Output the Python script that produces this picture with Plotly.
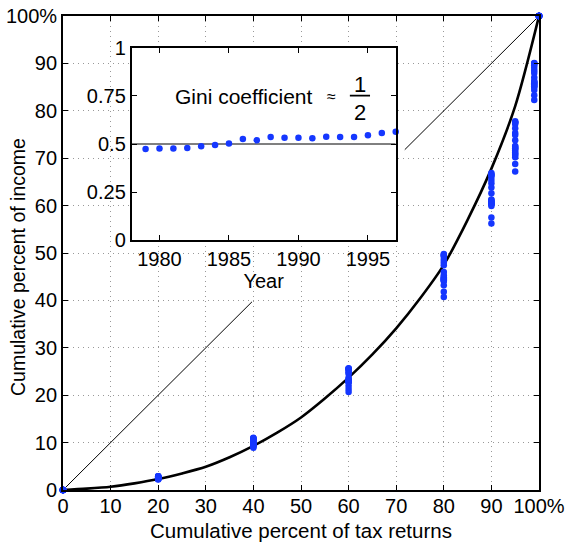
import plotly.graph_objects as go

# ---------------- data ----------------
years = list(range(1979, 1998))
gini = [0.474, 0.477, 0.477, 0.479, 0.488, 0.495, 0.502, 0.526, 0.519, 0.536,
        0.533, 0.533, 0.530, 0.538, 0.536, 0.536, 0.545, 0.557, 0.564]

pct_returns = [0, 20, 40, 60, 80, 90, 95, 99, 100]
share_0 = [0.0] * 19
share_20 = [2.9, 2.9, 2.9, 2.8, 2.8, 2.7, 2.7, 2.5, 2.6, 2.4, 2.4, 2.4, 2.5, 2.4, 2.4, 2.4, 2.3, 2.3, 2.2]
share_40 = [11.0, 10.9, 10.9, 10.8, 10.6, 10.5, 10.3, 9.8, 10.0, 9.6, 9.6, 9.7, 9.7, 9.5, 9.5, 9.5, 9.3, 9.1, 8.9]
share_60 = [25.7, 25.6, 25.6, 25.4, 25.1, 24.8, 24.5, 23.4, 23.7, 22.9, 23.0, 23.0, 23.1, 22.8, 22.9, 22.8, 22.0, 21.3, 20.7]
share_80 = [49.8, 49.6, 49.5, 49.2, 48.6, 48.0, 47.4, 45.3, 46.0, 44.4, 44.7, 44.6, 44.9, 44.1, 44.3, 44.2, 43.2, 41.8, 40.7]
share_90 = [66.9, 66.6, 66.4, 66.1, 65.4, 64.7, 63.8, 61.3, 62.6, 60.6, 60.8, 60.9, 61.2, 60.3, 60.4, 60.3, 59.9, 57.5, 56.2]
share_95 = [77.8, 77.6, 77.5, 77.2, 76.3, 75.3, 74.9, 72.6, 73.8, 71.6, 72.1, 72.0, 72.4, 71.2, 70.7, 70.9, 70.2, 68.8, 67.2]
share_99 = [90.1, 90.0, 89.9, 89.6, 89.1, 88.5, 88.0, 86.3, 87.0, 85.6, 85.8, 85.9, 86.1, 85.3, 85.0, 85.2, 84.4, 83.3, 82.3]
share_100 = [100.0] * 19
shares = [share_0, share_20, share_40, share_60, share_80, share_90, share_95, share_99, share_100]

curve_x = [0, 5, 10, 15, 20, 25, 30, 35, 40, 45, 50, 55, 60, 65, 70, 75, 80, 85, 90, 95, 100]
curve_y = [0, 0.3, 0.7, 1.4, 2.3, 3.5, 4.9, 6.9, 9.3, 12.1, 15.3, 19.3, 23.7, 28.6, 34.1, 40.4, 47.5, 57.0, 67.8, 81.0, 100]

diag_lo_x = [0, 39.7]
diag_hi_x = [71.8, 100]

x_ticks = [0, 10, 20, 30, 40, 50, 60, 70, 80, 90, 100]
x_tick_labels = ["0", "10", "20", "30", "40", "50", "60", "70", "80", "90", "100%"]
y_ticks = [0, 10, 20, 30, 40, 50, 60, 70, 80, 90, 100]
y_tick_labels = ["0", "10", "20", "30", "40", "50", "60", "70", "80", "90", "100%"]
inset_x_ticks = [1980, 1985, 1990, 1995]
inset_y_ticks = [0, 0.25, 0.5, 0.75, 1]
inset_y_labels = ["0", "0.25", "0.5", "0.75", "1"]
gini_ref = 0.5

# ---------------- figure ----------------
FONT = "Liberation Sans, Arial, Helvetica, sans-serif"
FS = 20
BLUE = "#1537ff"

fig = go.Figure()

px_all, py_all = [], []
for j in range(len(years)):
    for k, p in enumerate(pct_returns):
        px_all.append(p)
        py_all.append(shares[k][j])

fig.add_trace(go.Scatter(x=diag_lo_x, y=diag_lo_x, mode="lines",
                         line=dict(color="black", width=1), hoverinfo="skip"))
fig.add_trace(go.Scatter(x=diag_hi_x, y=diag_hi_x, mode="lines",
                         line=dict(color="black", width=1), hoverinfo="skip"))
fig.add_trace(go.Scatter(x=curve_x, y=curve_y, mode="lines",
                         line=dict(color="black", width=2.6, shape="spline", smoothing=0.8),
                         hoverinfo="skip"))
fig.add_trace(go.Scatter(x=px_all, y=py_all, mode="markers",
                         marker=dict(color=BLUE, size=6.5, line=dict(width=0)),
                         cliponaxis=False))

fig.add_trace(go.Scatter(x=[1978, 1997], y=[gini_ref, gini_ref], mode="lines",
                         line=dict(color="black", width=1), xaxis="x2", yaxis="y2",
                         hoverinfo="skip"))
fig.add_trace(go.Scatter(x=years, y=gini, mode="markers",
                         marker=dict(color=BLUE, size=6.5, line=dict(width=0)),
                         xaxis="x2", yaxis="y2", cliponaxis=False))

axis_common = dict(showline=True, linecolor="black", linewidth=1.8, mirror="ticks",
                   ticks="inside", ticklen=5, tickcolor="black", tickwidth=1, zeroline=False,
                   automargin=False,
                   tickfont=dict(family=FONT, size=FS, color="black"))

GRID = dict(showgrid=True, gridcolor="#999999", griddash="1px,4px", gridwidth=1)

fig.update_layout(
    width=565, height=543,
    margin=dict(l=63, r=26, t=16, b=53),
    paper_bgcolor="white", plot_bgcolor="white",
    showlegend=False,
    font=dict(family=FONT, size=FS, color="black"),
    xaxis=dict(range=[0, 100], tickvals=x_ticks, ticktext=x_tick_labels,
               ticklabelstandoff=-3,
               domain=[0, 1], **GRID, **axis_common),
    yaxis=dict(range=[0, 100], tickvals=y_ticks, ticktext=y_tick_labels,
               domain=[0, 1], **GRID, **axis_common),
    xaxis2=dict(range=[1978, 1997], tickvals=inset_x_ticks, anchor="y2",
                domain=[0.1443, 0.699], showgrid=False,
                title=dict(text="Year", standoff=0, font=dict(family=FONT, size=FS)),
                **axis_common),
    yaxis2=dict(range=[0, 1], tickvals=inset_y_ticks, ticktext=inset_y_labels, anchor="x2",
                domain=[0.5274, 0.9325], showgrid=False, **axis_common),
)

# axis titles
fig.add_annotation(x=0.5, y=-0.0845, xref="paper", yref="paper",
                   xanchor="center", yanchor="middle",
                   text="Cumulative percent of tax returns", showarrow=False,
                   font=dict(family=FONT, size=20.5, color="black"))
fig.add_annotation(x=-0.0945, y=0.4705, xref="paper", yref="paper", textangle=-90,
                   xanchor="center", yanchor="middle",
                   text="Cumulative percent of income", showarrow=False,
                   font=dict(family=FONT, size=19.5, color="black"))

# Gini annotation text with fraction
fig.add_annotation(x=1986.05, y=0.746, xref="x2", yref="y2", text="Gini coefficient",
                   showarrow=False, font=dict(family=FONT, size=21, color="black"))
fig.add_annotation(x=1992.4, y=0.745, xref="x2", yref="y2", text="≈",
                   showarrow=False, font=dict(family=FONT, size=16, color="black"))
fig.add_annotation(x=1994.4, y=0.81, xref="x2", yref="y2", text="1",
                   showarrow=False, font=dict(family=FONT, size=22, color="black"))
fig.add_annotation(x=1994.4, y=0.665, xref="x2", yref="y2", text="2",
                   showarrow=False, font=dict(family=FONT, size=22, color="black"))
fig.add_shape(type="line", xref="x2", yref="y2", x0=1993.7, x1=1995.15, y0=0.752, y1=0.752,
              line=dict(color="black", width=1.8))

fig.write_html("out.html")
